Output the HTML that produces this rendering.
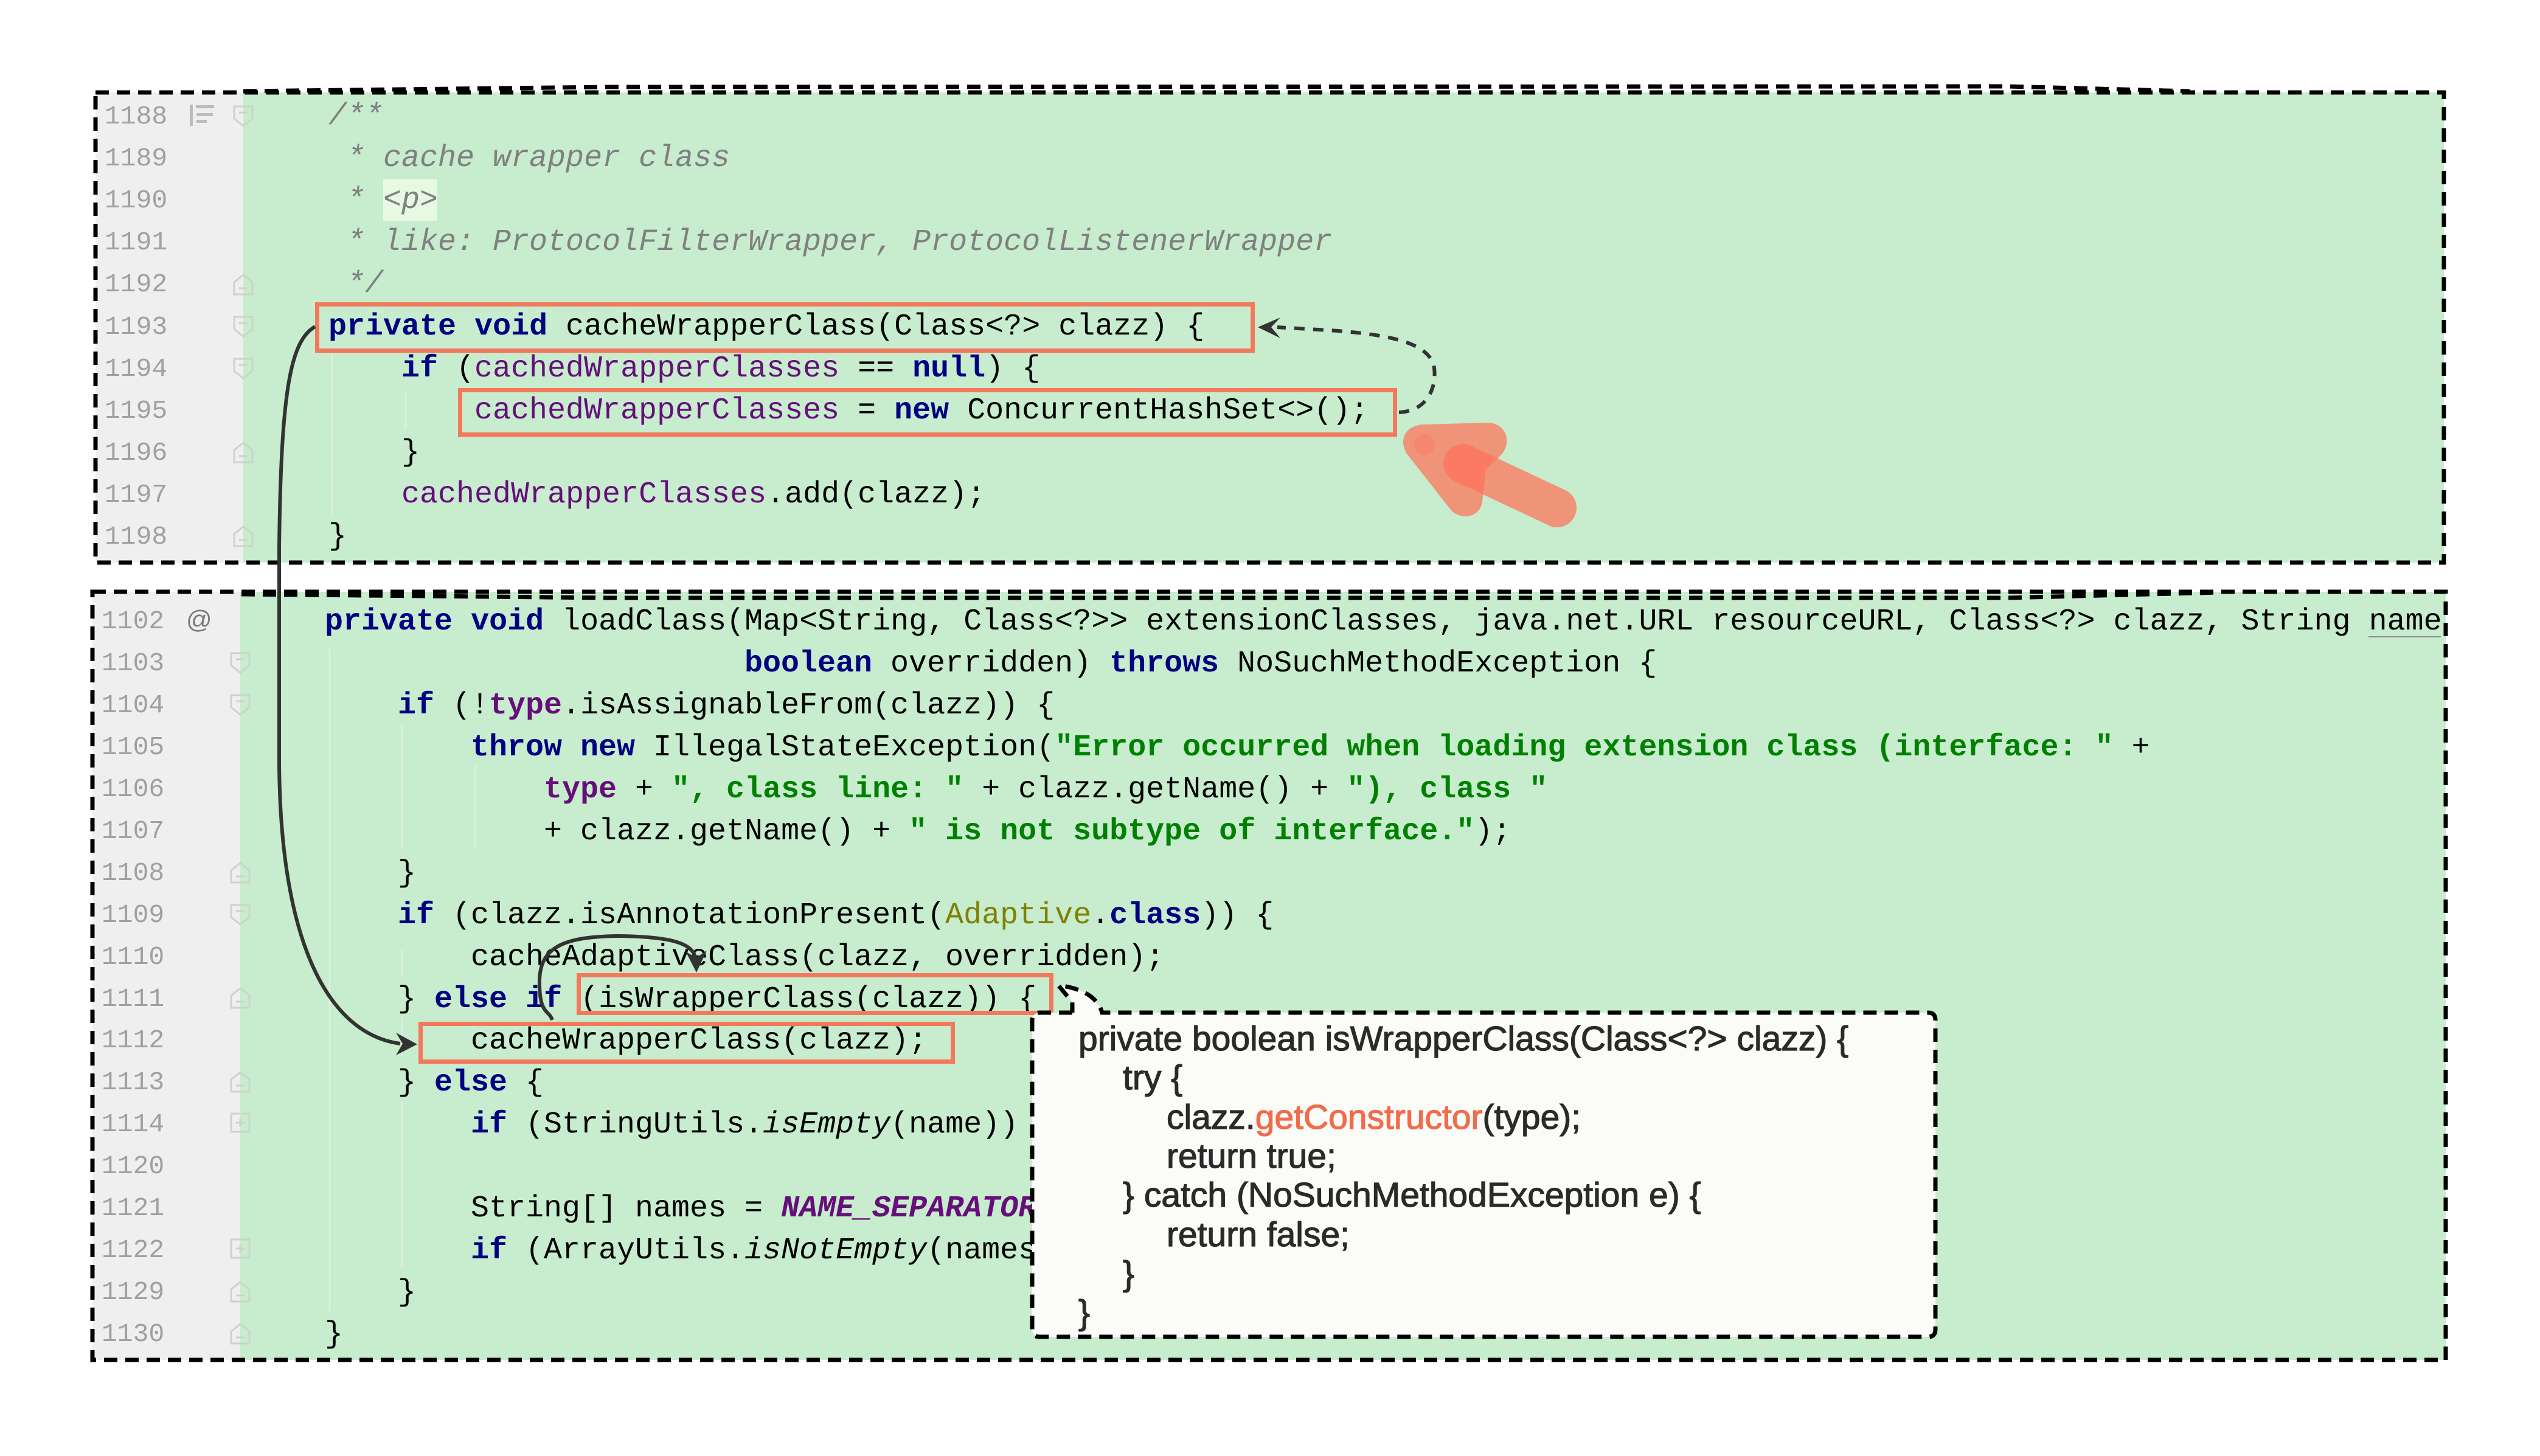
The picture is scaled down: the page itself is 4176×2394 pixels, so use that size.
<!DOCTYPE html>
<html>
<head>
<meta charset="utf-8">
<style>
html,body{margin:0;padding:0;background:#ffffff;}
svg{display:block;}
.code{font-family:"Liberation Mono",monospace;font-size:50px;fill:#000000;white-space:pre;}
.kw{fill:#000080;font-weight:bold;}
.fld{fill:#660e7a;}
.fldb{fill:#660e7a;font-weight:bold;}
.str{fill:#008000;font-weight:bold;}
.cm{fill:#808080;font-style:italic;}
.ann{fill:#808000;}
.it{font-style:italic;}
.sf{fill:#660e7a;font-weight:bold;font-style:italic;}
.ln{font-family:"Liberation Mono",monospace;font-size:43px;fill:#a0a0a0;}
.pop{font-family:"Liberation Sans",Arial,sans-serif;font-size:57px;fill:#2a2a2a;stroke:#2a2a2a;stroke-width:1.2px;white-space:pre;}
</style>
</head>
<body>
<svg width="4176" height="2394" viewBox="0 0 4176 2394" xmlns="http://www.w3.org/2000/svg">
<rect x="0" y="0" width="4176" height="2394" fill="#ffffff"/>

<!-- ===== TOP BOX backgrounds ===== -->
<rect x="157" y="152" width="243" height="773" fill="#efefef"/>
<rect x="400" y="152" width="3618" height="773" fill="#c7ecce"/>
<rect x="630" y="295" width="89" height="68" fill="#e6f9e3"/>
<line x1="546" y1="582" x2="546" y2="845" stroke="#dcefdc" stroke-width="3"/>
<line x1="667" y1="642" x2="667" y2="706" stroke="#dcefdc" stroke-width="3"/>

<!-- ===== BOTTOM BOX backgrounds ===== -->
<rect x="152" y="973" width="243" height="1263" fill="#efefef"/>
<rect x="395" y="973" width="3626" height="1263" fill="#c7ecce"/>
<g stroke="#dcefdc" stroke-width="3">
<line x1="542" y1="1066" x2="542" y2="2155"/>
<line x1="661" y1="1191" x2="661" y2="1396"/>
<line x1="661" y1="1562" x2="661" y2="1606"/>
<line x1="661" y1="1673" x2="661" y2="1736"/>
<line x1="661" y1="1812" x2="661" y2="2084"/>
<line x1="781" y1="1258" x2="781" y2="1396"/>
</g>

<!-- ===== gutter markers ===== -->
<g fill="none" stroke="#ccd3cc" stroke-width="3">
<path d="M385 175 h30 v20 l-15 12 l-15 -12 z M393 185 h14"/>
<path d="M385 484 h30 v-20 l-15 -12 l-15 12 z M393 474 h14"/>
<path d="M385 521 h30 v20 l-15 12 l-15 -12 z M393 531 h14"/>
<path d="M385 590 h30 v20 l-15 12 l-15 -12 z M393 600 h14"/>
<path d="M385 760 h30 v-20 l-15 -12 l-15 12 z M393 750 h14"/>
<path d="M385 898 h30 v-20 l-15 -12 l-15 12 z M393 888 h14"/>

<path d="M380 1074 h30 v20 l-15 12 l-15 -12 z M388 1084 h14"/>
<path d="M380 1143 h30 v20 l-15 12 l-15 -12 z M388 1153 h14"/>
<path d="M380 1451 h30 v-20 l-15 -12 l-15 12 z M388 1441 h14"/>
<path d="M380 1488 h30 v20 l-15 12 l-15 -12 z M388 1498 h14"/>
<path d="M380 1657 h30 v-20 l-15 -12 l-15 12 z M388 1647 h14"/>
<path d="M380 1795 h30 v-20 l-15 -12 l-15 12 z M388 1785 h14"/>
<path d="M380 1831 h30 v30 h-30 z M388 1846 h14 M395 1839 v14"/>
<path d="M380 2038 h30 v30 h-30 z M388 2053 h14 M395 2046 v14"/>
<path d="M380 2140 h30 v-20 l-15 -12 l-15 12 z M388 2130 h14"/>
<path d="M380 2209 h30 v-20 l-15 -12 l-15 12 z M388 2199 h14"/>
</g>
<g fill="#b9bdc1">
<rect x="312" y="172" width="5" height="35"/>
<rect x="322" y="173" width="30" height="5"/>
<rect x="323" y="186" width="27" height="5"/>
<rect x="323" y="197" width="17" height="5"/>
</g>
<text x="306" y="1033" font-family="Liberation Sans, Arial, sans-serif" font-size="42" fill="#7a7a7a">@</text>

<!-- ===== line numbers top ===== -->
<g class="ln">
<text x="172" y="203">1188</text>
<text x="172" y="272">1189</text>
<text x="172" y="341">1190</text>
<text x="172" y="410">1191</text>
<text x="172" y="479">1192</text>
<text x="172" y="549">1193</text>
<text x="172" y="618">1194</text>
<text x="172" y="687">1195</text>
<text x="172" y="756">1196</text>
<text x="172" y="825">1197</text>
<text x="172" y="894">1198</text>
</g>
<g class="ln">
<text x="167" y="1033">1102</text>
<text x="167" y="1102">1103</text>
<text x="167" y="1171">1104</text>
<text x="167" y="1240">1105</text>
<text x="167" y="1309">1106</text>
<text x="167" y="1378">1107</text>
<text x="167" y="1447">1108</text>
<text x="167" y="1516">1109</text>
<text x="167" y="1585">1110</text>
<text x="167" y="1654">1111</text>
<text x="167" y="1722">1112</text>
<text x="167" y="1791">1113</text>
<text x="167" y="1860">1114</text>
<text x="167" y="1929">1120</text>
<text x="167" y="1998">1121</text>
<text x="167" y="2067">1122</text>
<text x="167" y="2136">1129</text>
<text x="167" y="2205">1130</text>
</g>

<!-- ===== top code ===== -->
<text class="code cm" x="540" y="204">/**</text>
<text class="code cm" x="570" y="273">* cache wrapper class</text>
<text class="code cm" x="570" y="342">* &lt;p&gt;</text>
<text class="code cm" x="570" y="411">* like: ProtocolFilterWrapper, ProtocolListenerWrapper</text>
<text class="code cm" x="570" y="480">*/</text>
<text class="code" x="540" y="550"><tspan class="kw">private</tspan> <tspan class="kw">void</tspan> cacheWrapperClass(Class&lt;?&gt; clazz) {</text>
<text class="code" x="660" y="619"><tspan class="kw">if</tspan> (<tspan class="fld">cachedWrapperClasses</tspan> == <tspan class="kw">null</tspan>) {</text>
<text class="code" x="780" y="688"><tspan class="fld">cachedWrapperClasses</tspan> = <tspan class="kw">new</tspan> ConcurrentHashSet&lt;&gt;();</text>
<text class="code" x="660" y="757">}</text>
<text class="code" x="660" y="826"><tspan class="fld">cachedWrapperClasses</tspan>.add(clazz);</text>
<text class="code" x="540" y="895">}</text>

<!-- ===== bottom code ===== -->
<text class="code" x="534" y="1035"><tspan class="kw">private</tspan> <tspan class="kw">void</tspan> loadClass(Map&lt;String, Class&lt;?&gt;&gt; extensionClasses, java.net.URL resourceURL, Class&lt;?&gt; clazz, String name</text>
<line x1="3894" y1="1047" x2="4013" y2="1047" stroke="#8a8a8a" stroke-width="2"/>
<text class="code" x="1224" y="1104"><tspan class="kw">boolean</tspan> overridden) <tspan class="kw">throws</tspan> NoSuchMethodException {</text>
<text class="code" x="654" y="1173"><tspan class="kw">if</tspan> (!<tspan class="fldb">type</tspan>.isAssignableFrom(clazz)) {</text>
<text class="code" x="774" y="1242"><tspan class="kw">throw</tspan> <tspan class="kw">new</tspan> IllegalStateException(<tspan class="str">"Error occurred when loading extension class (interface: "</tspan> +</text>
<text class="code" x="894" y="1311"><tspan class="fldb">type</tspan> + <tspan class="str">", class line: "</tspan> + clazz.getName() + <tspan class="str">"), class "</tspan></text>
<text class="code" x="894" y="1380">+ clazz.getName() + <tspan class="str">" is not subtype of interface."</tspan>);</text>
<text class="code" x="654" y="1449">}</text>
<text class="code" x="654" y="1518"><tspan class="kw">if</tspan> (clazz.isAnnotationPresent(<tspan class="ann">Adaptive</tspan>.<tspan class="kw">class</tspan>)) {</text>
<text class="code" x="774" y="1587">cacheAdaptiveClass(clazz, overridden);</text>
<text class="code" x="654" y="1656">} <tspan class="kw">else</tspan> <tspan class="kw">if</tspan> (isWrapperClass(clazz)) {</text>
<text class="code" x="774" y="1724">cacheWrapperClass(clazz);</text>
<text class="code" x="654" y="1793">} <tspan class="kw">else</tspan> {</text>
<text class="code" x="774" y="1862"><tspan class="kw">if</tspan> (StringUtils.<tspan class="it">isEmpty</tspan>(name)) {...}</text>
<text class="code" x="774" y="2000">String[] names = <tspan class="sf">NAME_SEPARATOR</tspan>.split(name);</text>
<text class="code" x="774" y="2069"><tspan class="kw">if</tspan> (ArrayUtils.<tspan class="it">isNotEmpty</tspan>(names)) {...}</text>
<text class="code" x="654" y="2138">}</text>
<text class="code" x="534" y="2207">}</text>

<!-- ===== orange highlight rects ===== -->
<g fill="none" stroke="#f4795c" stroke-width="7">
<rect x="521.5" y="500.5" width="1538" height="76"/>
<rect x="756.5" y="641.5" width="1537" height="73"/>
<rect x="951.5" y="1603.5" width="777" height="62"/>
<rect x="691.5" y="1683.5" width="875" height="62"/>
</g>

<!-- ===== pointer blob ===== -->
<path d="M2312 745 C2300 722 2310 700 2340 698 L2445 695 C2478 695 2487 730 2466 750 L2443 772 L2437 825 C2433 852 2400 856 2385 838 Z" fill="#ff7159" fill-opacity="0.72"/>
<circle cx="2342" cy="731" r="17" fill="#ff7159" fill-opacity="0.35"/>
<line x1="2405" y1="762" x2="2560" y2="835" stroke="#ff7159" stroke-opacity="0.72" stroke-width="64" stroke-linecap="round"/>

<!-- ===== dashed arrow (top) ===== -->
<path d="M2300 678 C2345 676 2362 640 2358 605 C2352 568 2300 552 2200 544 L2100 538" fill="none" stroke="#333333" stroke-width="6" stroke-dasharray="17 14"/>
<path d="M2068 538 L2105 522 L2090 538 L2105 556 Z" fill="#333333"/>

<!-- ===== long solid arrow ===== -->
<path d="M518 537 C478 560 462 640 459 900 L459 1250 C460 1550 540 1700 658 1716" fill="none" stroke="#333333" stroke-width="6"/>
<path d="M686 1717 L651 1698 L662 1716 L651 1735 Z" fill="#333333"/>

<!-- ===== small arc arrow ===== -->
<path d="M908 1677 C902 1660 888 1668 887 1620 C885 1560 920 1540 1017 1539 C1100 1540 1138 1550 1143 1574" fill="none" stroke="#333333" stroke-width="6"/>
<path d="M1145 1599 L1127 1564 L1144 1575 L1162 1563 Z" fill="#333333"/>

<!-- ===== popup ===== -->
<rect x="1697" y="1665" width="1485" height="533" rx="12" ry="12" fill="#fbfbf8"/>
<path d="M1812 1668 C1805 1640 1780 1625 1740 1620 L1763 1648 L1763 1668 Z" fill="#fbfbf8"/>
<path d="M1763 1665 L1709 1665 Q1697 1665 1697 1677 L1697 2186 Q1697 2198 1709 2198 L3170 2198 Q3182 2198 3182 2186 L3182 1677 Q3182 1665 3170 1665 L1812 1665 C1805 1640 1780 1625 1740 1620 L1763 1648 L1763 1665" fill="none" stroke="#000000" stroke-width="7" stroke-dasharray="22 13"/>
<text class="pop" x="1773" y="1727">private boolean isWrapperClass(Class&lt;?&gt; clazz) {</text>
<text class="pop" x="1846" y="1791">try {</text>
<text class="pop" x="1918" y="1856">clazz.<tspan fill="#f26b4b" stroke="#f26b4b">getConstructor</tspan>(type);</text>
<text class="pop" x="1918" y="1920">return true;</text>
<text class="pop" x="1846" y="1984">} catch (NoSuchMethodException e) {</text>
<text class="pop" x="1918" y="2049">return false;</text>
<text class="pop" x="1846" y="2113">}</text>
<text class="pop" x="1773" y="2177">}</text>

<!-- ===== dashed box borders ===== -->
<g fill="none" stroke="#000000" stroke-width="7" stroke-dasharray="22 13">
<rect x="157" y="152" width="3861" height="773"/>
<polyline points="400,150 1000,143 3300,142 3600,150"/>
<rect x="152" y="973" width="3869" height="1263"/>
<polyline points="397,977 1000,983 3300,983 3650,974"/>
</g>

<path d="M459 900 L459 1000" fill="none" stroke="#333333" stroke-width="6"/>
</svg>
</body>
</html>
